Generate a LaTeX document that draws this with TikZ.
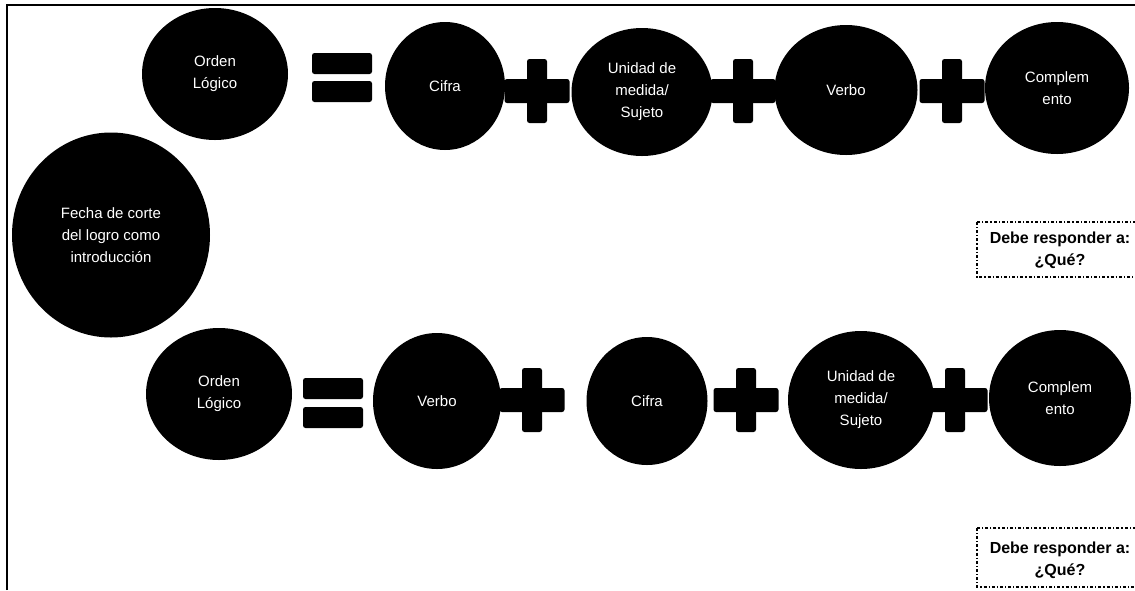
\documentclass[tikz,border=0pt]{standalone}
\usepackage{fontspec}
\setmainfont{Liberation Sans}
\usetikzlibrary{shapes.geometric}
\begin{document}
\begin{tikzpicture}[x=1pt,y=-1pt,
  blob/.style={ellipse, fill=black, text=white, inner sep=0pt, align=center,
    font=\fontsize{15}{22}\selectfont},
  barshape/.style={fill=black, rounded corners=2.5pt},
  asktext/.style={align=center, inner sep=0pt, font=\bfseries\fontsize{16}{22}\selectfont},
  askframe/.style={draw=black, line width=1.2pt, dash pattern=on 3pt off 2pt on 1.2pt off 2pt},
  frameline/.style={draw=black, line width=1.5pt}]
\useasboundingbox (0,0) rectangle (1135,590);
\fill[white] (0,0) rectangle (1135,590);
% outer frame (top and left edges)
\draw[frameline] (7,590) -- (7,5) -- (1135,5);

% plus and equals signs
\newcommand{\plussign}[2]{%
  \fill[barshape] (#1-32.5,#2-12) rectangle (#1+32.5,#2+12);
  \fill[barshape] (#1-10,#2-32) rectangle (#1+10,#2+32);}
\newcommand{\equalsign}[3]{%
  \fill[barshape] (#1,#2) rectangle (#1+60,#2+21);
  \fill[barshape] (#1,#3) rectangle (#1+60,#3+21);}

% top row
\node[blob, minimum width=146, minimum height=132] (o1) at (215,74) {Orden\\Lógico};
\equalsign{312}{53}{81}
\node[blob, minimum width=120, minimum height=128] (c1) at (445,86) {Cifra};
\plussign{537}{91}
\node[blob, minimum width=141, minimum height=128] (u1) at (642,92) {Unidad de\\medida/\\Sujeto};
\plussign{743}{91}
\node[blob, minimum width=143, minimum height=130] (v1) at (846,90) {Verbo};
\plussign{952}{91}
\node[blob, minimum width=144, minimum height=132] (k1) at (1057,88) {Complem\\ento};

% left big circle
\node[blob, minimum width=198, minimum height=205] (fecha) at (111,235)
  {Fecha de corte\\del logro como\\introducción};

% bottom row
\node[blob, minimum width=146, minimum height=132] (o2) at (219,394) {Orden\\Lógico};
\equalsign{303}{378}{407}
\node[blob, minimum width=128, minimum height=136] (v2) at (437,401) {Verbo};
\plussign{532}{400}
\node[blob, minimum width=121, minimum height=128] (c2) at (647,401) {Cifra};
\plussign{746}{400}
\node[blob, minimum width=146, minimum height=138] (u2) at (861,400) {Unidad de\\medida/\\Sujeto};
\plussign{955}{400}
\node[blob, minimum width=142, minimum height=136] (k2) at (1060,398) {Complem\\ento};

% question boxes
\draw[askframe] (977,222) rectangle (1145,277);
\node[asktext] (q1) at (1060,250) {Debe responder a:\\¿Qué?};
\draw[askframe] (977,528) rectangle (1145,587);
\node[asktext] (q2) at (1060,560) {Debe responder a:\\¿Qué?};
\end{tikzpicture}
\end{document}
